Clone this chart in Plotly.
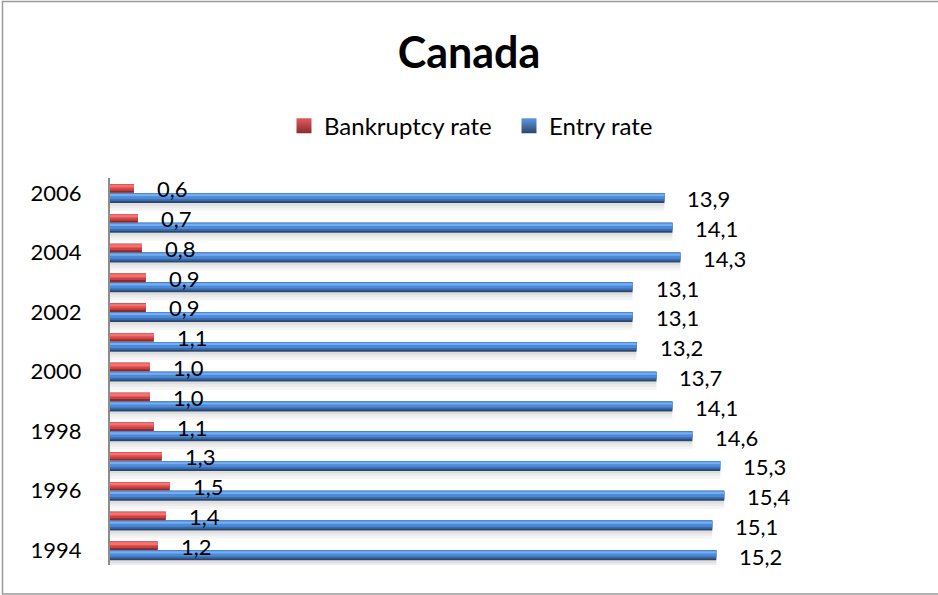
import plotly.graph_objects as go

# Firm dynamics in Canada, percent
years = [1994, 1995, 1996, 1997, 1998, 1999, 2000, 2001, 2002, 2003, 2004, 2005, 2006]
bankruptcy_rate = [1.2, 1.4, 1.5, 1.3, 1.1, 1.0, 1.0, 1.1, 0.9, 0.9, 0.8, 0.7, 0.6]
entry_rate = [15.2, 15.1, 15.4, 15.3, 14.6, 14.1, 13.7, 13.2, 13.1, 13.1, 14.3, 14.1, 13.9]
year_ticks = [1994, 1996, 1998, 2000, 2002, 2004, 2006]

FONT = "Lato"


def fmt(v):
    return f"{v:.1f}".replace(".", ",")


fig = go.Figure()


def bevel_bar(values, name, offset, width, bands, shadow=True):
    """Draw one series as stacked horizontal bands for a bevelled 3D look.

    bands: list of (start, end, colour) as fractions of the bar thickness,
    measured from the bottom edge upwards.
    """
    if shadow:
        for k, alpha in enumerate([0.13, 0.08, 0.04]):
            fig.add_trace(go.Bar(
                x=values, y=years, orientation="h",
                offset=offset - 0.09 * (k + 1), width=0.09,
                marker=dict(color=f"rgba(0,0,0,{alpha})", line_width=0),
                showlegend=False, hoverinfo="skip"))
    for i, (a, b, col) in enumerate(bands):
        fig.add_trace(go.Bar(
            x=values, y=years, orientation="h",
            offset=offset + width * a, width=width * (b - a),
            marker=dict(color=col, line_width=0),
            name=name, showlegend=False,
            hoverinfo="skip" if i else None,
            hovertemplate=None if i else "%{y}: %{x}<extra>" + name + "</extra>"))


bevel_bar(entry_rate, "Entry rate", -0.34, 0.335,
          [(0.0, 1.0, "#2A466C"), (0.18, 1.0, "#3A6AA8"),
           (0.38, 1.0, "#4B8ADB"), (0.68, 0.9, "#74AEF0")])
bevel_bar(bankruptcy_rate, "Bankruptcy rate", 0.0, 0.29,
          [(0.0, 1.0, "#8A2C2C"), (0.25, 1.0, "#C84444"),
           (0.5, 1.0, "#E85656"), (0.7, 0.92, "#F37373")], shadow=False)

# legend keys with a bevel-like vertical gradient
for name, top, bottom in [("Bankruptcy rate", "#E25B5B", "#8A2C2C"),
                          ("Entry rate", "#5E98E0", "#2A466C")]:
    fig.add_trace(go.Scatter(
        x=[None], y=[None], mode="markers", name=name, hoverinfo="skip",
        marker=dict(symbol="square", size=15, color=top,
                    gradient=dict(type="vertical", color=bottom),
                    line=dict(width=0))))

annotations = []
for yr, v in zip(years, bankruptcy_rate):
    annotations.append(dict(x=v, y=yr, xref="x", yref="y", text=fmt(v), showarrow=False,
                            xanchor="left", yanchor="middle", xshift=21, yshift=4,
                            font=dict(family=FONT, size=22, color="#000000")))
for yr, v in zip(years, entry_rate):
    annotations.append(dict(x=v, y=yr, xref="x", yref="y", text=fmt(v), showarrow=False,
                            xanchor="left", yanchor="middle", xshift=21, yshift=-6,
                            font=dict(family=FONT, size=22, color="#000000")))

fig.update_layout(
    width=938, height=595,
    margin=dict(l=110, r=110, t=178, b=30),
    paper_bgcolor="white", plot_bgcolor="white",
    barmode="overlay",
    font=dict(family=FONT, color="#000000"),
    title=dict(text="<b>Canada</b>", x=0.5, xref="paper", xanchor="center",
               y=1 - 53 / 595, yanchor="middle",
               font=dict(family=FONT, size=43, color="#000000")),
    legend=dict(orientation="h", x=0.5557, xanchor="center", y=1.134, yanchor="middle",
                font=dict(family=FONT, size=24, color="#000000"),
                entrywidth=180, entrywidthmode="pixels",
                traceorder="normal", bgcolor="rgba(0,0,0,0)"),
    xaxis=dict(visible=False, range=[0, 18], fixedrange=True),
    yaxis=dict(range=[1993.5, 2006.5], tickmode="array", tickvals=year_ticks,
               ticktext=[str(t) for t in year_ticks], showgrid=False, zeroline=False,
               showline=True, linecolor="#8C8C8C", linewidth=2, ticks="",
               ticklabelstandoff=22, tickfont=dict(family=FONT, size=22, color="#000000"),
               fixedrange=True),
    annotations=annotations,
    shapes=[dict(type="rect", xref="paper", yref="paper",
                 x0=(2.5 - 110) / 718, x1=(941 - 110) / 718,
                 y0=(565 - 594) / 387, y1=(565 - 1.5) / 387,
                 line=dict(color="#9A9A9A", width=1.5), layer="below")],
    showlegend=True,
)

fig.write_html("out.html")
